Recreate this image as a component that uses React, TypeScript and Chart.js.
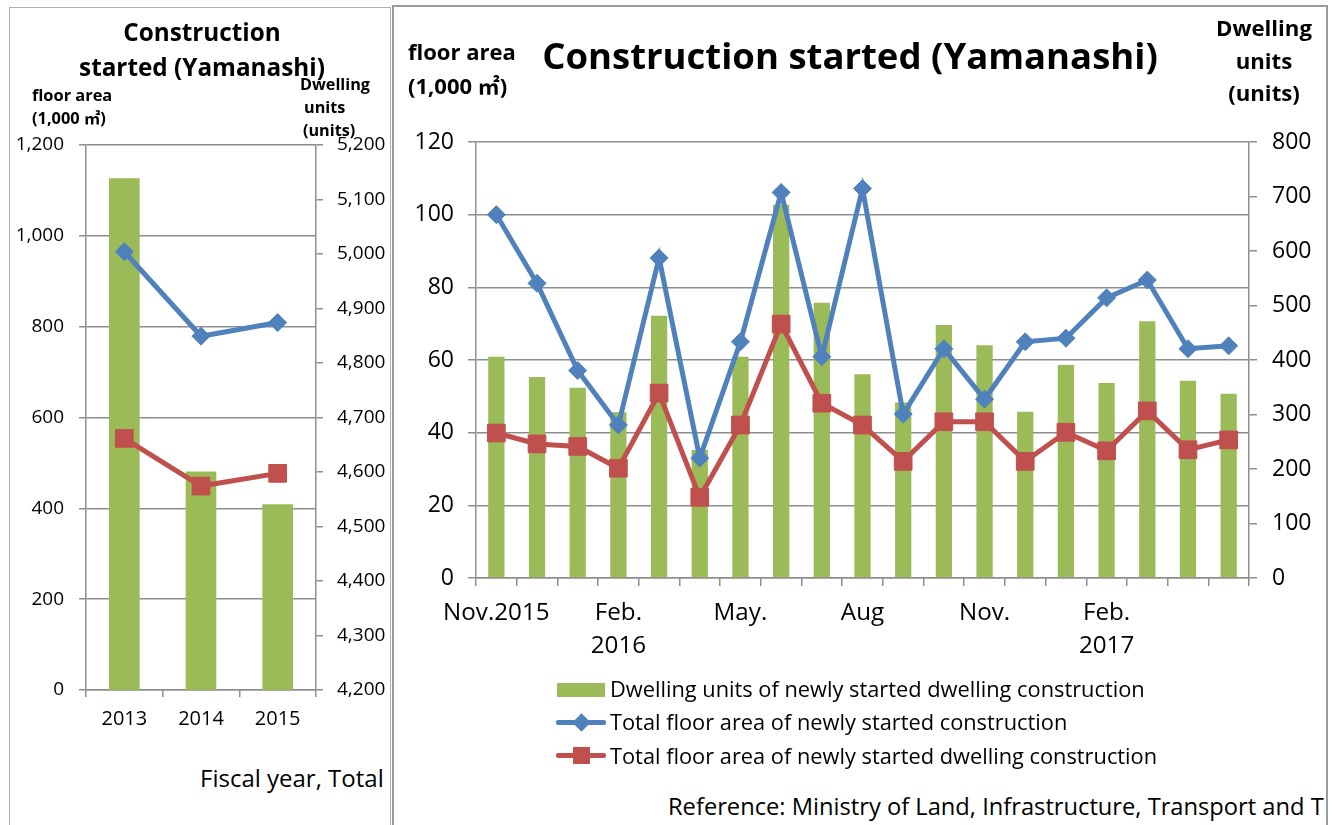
import React, { useEffect, useRef } from 'react';
import { Chart, registerables } from 'chart.js';

Chart.register(...registerables);

// ---------- data: fiscal year totals (left panel) ----------
const fyCategories = ['2013', '2014', '2015'];
const fyDwellingUnits = [5139, 4601, 4541];
const fyTotalFloorArea = [965, 779, 809];
const fyDwellingFloorArea = [554, 449, 477];
const fyLeftTicks = [0, 200, 400, 600, 800, 1000, 1200];
const fyRightTicks = [4200, 4300, 4400, 4500, 4600, 4700, 4800, 4900, 5000, 5100, 5200];

// ---------- data: monthly (right panel) ----------
const monthLabels: (string | string[])[] = [
  'Nov.2015', '', '', ['Feb.', '2016'], '', '', 'May.', '', '', 'Aug', '', '',
  'Nov.', '', '', ['Feb.', '2017'], '', '', '',
];
const monthlyDwellingUnits = [406, 369, 349, 304, 481, 235, 406, 685, 505, 374, 322, 464, 427, 305, 391, 358, 471, 362, 338];
const monthlyTotalFloorArea = [100.0, 81.1, 57.1, 42.1, 88.1, 33.0, 65.0, 106.1, 60.9, 107.2, 45.1, 63.1, 49.2, 65.0, 66.0, 77.1, 82.0, 63.1, 63.9];
const monthlyDwellingFloorArea = [39.9, 36.9, 36.2, 30.2, 50.9, 22.2, 42.1, 69.9, 48.1, 42.1, 32.1, 43.0, 43.0, 32.1, 40.1, 35.0, 46.0, 35.3, 38.0];
const monthlyLeftTicks = [0, 20, 40, 60, 80, 100, 120];
const monthlyRightTicks = [0, 100, 200, 300, 400, 500, 600, 700, 800];

const seriesNames = [
  'Dwelling units of newly started dwelling construction',
  'Total floor area of newly started construction',
  'Total floor area of newly started dwelling construction',
];

const GREEN = '#9BBB59';
const BLUE = '#4F81BD';
const RED = '#C0504D';
const GRID = '#8e8e8e';
const FONT = "'Open Sans', 'Noto Sans', 'Noto Sans CJK JP', sans-serif";

function fmt(v: number) {
  return Number(v).toLocaleString('en-US');
}

function makeConfig(opts: {
  labels: any[];
  units: number[];
  total: number[];
  dwelling: number[];
  leftTicks: number[];
  rightTicks: number[];
  padTop: number;
  leftW: number;
  rightW: number;
  bottomH: number;
  fontSize: number;
  xFontSize: number;
  xLineHeight: number;
  xPad: number;
  lPad: number;
  rPad: number;
  tickLen: number;
}): any {
  const lt = opts.leftTicks;
  const rt = opts.rightTicks;
  return {
    type: 'bar',
    data: {
      labels: opts.labels,
      datasets: [
        {
          type: 'line',
          label: seriesNames[1],
          data: opts.total,
          yAxisID: 'y',
          borderColor: BLUE,
          backgroundColor: BLUE,
          borderWidth: 5,
          tension: 0,
          pointStyle: 'rectRot',
          pointRadius: 9,
          pointBorderWidth: 1,
          pointBackgroundColor: BLUE,
          pointBorderColor: BLUE,
          order: 1,
        },
        {
          type: 'line',
          label: seriesNames[2],
          data: opts.dwelling,
          yAxisID: 'y',
          borderColor: RED,
          backgroundColor: RED,
          borderWidth: 5,
          tension: 0,
          pointStyle: 'rect',
          pointRadius: 12.5,
          pointBorderWidth: 1,
          pointBackgroundColor: RED,
          pointBorderColor: RED,
          order: 2,
        },
        {
          type: 'bar',
          label: seriesNames[0],
          data: opts.units,
          yAxisID: 'y1',
          backgroundColor: GREEN,
          borderWidth: 0,
          barPercentage: 0.4,
          categoryPercentage: 1,
          order: 3,
        },
      ],
    },
    options: {
      responsive: true,
      maintainAspectRatio: false,
      animation: false,
      layout: { padding: { top: opts.padTop, left: 0, right: 0, bottom: 0 } },
      plugins: {
        legend: { display: false },
        tooltip: { enabled: false },
        title: { display: false },
      },
      scales: {
        x: {
          type: 'category',
          offset: true,
          grid: {
            display: true,
            offset: true,
            drawOnChartArea: false,
            drawTicks: true,
            tickLength: opts.tickLen,
            color: GRID,
            lineWidth: 1.5,
          },
          border: { display: true, color: GRID, width: 1.5 },
          ticks: {
            autoSkip: false,
            maxRotation: 0,
            minRotation: 0,
            color: '#000',
            padding: opts.xPad,
            font: { family: FONT, size: opts.xFontSize, lineHeight: opts.xLineHeight },
          },
          afterFit: (s: any) => {
            s.height = opts.bottomH;
          },
        },
        y: {
          type: 'linear',
          position: 'left',
          min: lt[0],
          max: lt[lt.length - 1],
          grid: {
            display: true,
            drawOnChartArea: true,
            drawTicks: true,
            tickLength: opts.tickLen,
            color: GRID,
            lineWidth: 1.5,
          },
          border: { display: true, color: GRID, width: 1.5 },
          ticks: {
            stepSize: lt[1] - lt[0],
            color: '#000',
            padding: opts.lPad,
            font: { family: FONT, size: opts.fontSize },
            callback: (v: any) => fmt(v),
          },
          afterFit: (s: any) => {
            s.width = opts.leftW;
          },
        },
        y1: {
          type: 'linear',
          position: 'right',
          min: rt[0],
          max: rt[rt.length - 1],
          grid: {
            display: true,
            drawOnChartArea: false,
            drawTicks: true,
            tickLength: opts.tickLen,
            color: GRID,
            lineWidth: 1.5,
          },
          border: { display: true, color: GRID, width: 1.5 },
          ticks: {
            stepSize: rt[1] - rt[0],
            color: '#000',
            padding: opts.rPad,
            font: { family: FONT, size: opts.fontSize },
            callback: (v: any) => fmt(v),
          },
          afterFit: (s: any) => {
            s.width = opts.rightW;
          },
        },
      },
    },
  };
}

const abs = (l: number, t: number, extra: React.CSSProperties = {}): React.CSSProperties => ({
  position: 'absolute',
  left: l,
  top: t,
  ...extra,
});

export default function App() {
  const leftRef = useRef<HTMLCanvasElement | null>(null);
  const rightRef = useRef<HTMLCanvasElement | null>(null);

  useEffect(() => {
    document.body.style.margin = '0';
    const charts: Chart[] = [];
    if (leftRef.current) {
      charts.push(
        new Chart(
          leftRef.current,
          makeConfig({
            labels: fyCategories,
            units: fyDwellingUnits,
            total: fyTotalFloorArea,
            dwelling: fyDwellingFloorArea,
            leftTicks: fyLeftTicks,
            rightTicks: fyRightTicks,
            padTop: 145,
            leftW: 86,
            rightW: 84,
            bottomH: 70,
            fontSize: 19,
            xFontSize: 20,
            xLineHeight: 1.2,
            xPad: 10,
            lPad: 15,
            rPad: 14,
            tickLen: 7,
          })
        )
      );
    }
    if (rightRef.current) {
      charts.push(
        new Chart(
          rightRef.current,
          makeConfig({
            labels: monthLabels,
            units: monthlyDwellingUnits,
            total: monthlyTotalFloorArea,
            dwelling: monthlyDwellingFloorArea,
            leftTicks: monthlyLeftTicks,
            rightTicks: monthlyRightTicks,
            padTop: 142,
            leftW: 83,
            rightW: 78,
            bottomH: 102,
            fontSize: 23,
            xFontSize: 24.2,
            xLineHeight: 1.38,
            xPad: 10,
            lPad: 14,
            rPad: 15,
            tickLen: 8,
          })
        )
      );
    }
    return () => {
      charts.forEach((c) => c.destroy());
    };
  }, []);

  const bold: React.CSSProperties = { fontFamily: FONT, fontWeight: 700, color: '#000', whiteSpace: 'nowrap' };
  const reg: React.CSSProperties = { fontFamily: FONT, fontWeight: 400, color: '#000', whiteSpace: 'nowrap' };

  return (
    <div style={{ position: 'absolute', left: 0, top: 0, width: 1341, height: 825, overflow: 'hidden', background: '#fff' }}>
      {/* panel frames */}
      <div style={abs(9, 7, { width: 382, height: 840, border: '1px solid #b0b0b0', boxSizing: 'border-box' })} />
      <div style={abs(392, 5, { width: 936, height: 840, border: '2px solid #9a9a9a', boxSizing: 'border-box' })} />

      {/* canvases */}
      <div style={abs(0, 0, { width: 400, height: 760 })}>
        <canvas ref={leftRef} />
      </div>
      <div style={abs(393, 0, { width: 934, height: 680 })}>
        <canvas ref={rightRef} />
      </div>

      {/* left panel texts */}
      <div style={abs(9, 14, { ...bold, width: 386, textAlign: 'center', fontSize: 24.3, lineHeight: '35px' })}>
        Construction
        <br />
        started (Yamanashi)
      </div>
      <div style={abs(32, 83, { ...bold, fontSize: 16.4, lineHeight: '23px' })}>
        floor area
        <br />
        (1,000 ㎡)
      </div>
      <div style={abs(300, 73, { ...bold, fontSize: 16.2, lineHeight: '23px' })}>Dwelling</div>
      <div style={abs(304, 96, { ...bold, fontSize: 16.2, lineHeight: '23px' })}>units</div>
      <div style={abs(303, 119, { ...bold, fontSize: 16.2, lineHeight: '23px' })}>(units)</div>
      <div style={abs(200, 762, { ...reg, fontSize: 24, lineHeight: '32px' })}>Fiscal year, Total</div>

      {/* right panel texts */}
      <div style={abs(393, 32, { ...bold, width: 914, textAlign: 'center', fontSize: 36.5, lineHeight: '46px' })}>
        Construction started (Yamanashi)
      </div>
      <div style={abs(408, 34, { ...bold, fontSize: 22, lineHeight: '34px' })}>
        floor area
        <br />
        (1,000 ㎡)
      </div>
      <div style={abs(1204, 12, { ...bold, width: 120, textAlign: 'center', fontSize: 22.2, lineHeight: '32.5px' })}>
        Dwelling
        <br />
        units
        <br />
        (units)
      </div>

      {/* legend */}
      <div style={abs(557, 683, { width: 48, height: 14, background: GREEN })} />
      <div style={abs(610, 674, { ...reg, fontSize: 21.8, lineHeight: '30px' })}>{seriesNames[0]}</div>

      <div style={abs(556, 720, { width: 50, height: 5, background: BLUE, borderRadius: 2 })} />
      <div style={abs(575, 716, { width: 13, height: 13, background: BLUE, transform: 'rotate(45deg)' })} />
      <div style={abs(610, 707, { ...reg, fontSize: 21.8, lineHeight: '30px' })}>{seriesNames[1]}</div>

      <div style={abs(556, 753, { width: 50, height: 5, background: RED, borderRadius: 2 })} />
      <div style={abs(573, 747, { width: 17, height: 17, background: RED })} />
      <div style={abs(610, 741, { ...reg, fontSize: 21.8, lineHeight: '30px' })}>{seriesNames[2]}</div>

      {/* source note, clipped by the panel frame */}
      <div style={abs(394, 790, { width: 931, height: 34, overflow: 'hidden' })}>
        <div style={abs(274, 0, { ...reg, fontSize: 23.7, lineHeight: '32px' })}>
          Reference: Ministry of Land, Infrastructure, Transport and T
        </div>
      </div>
    </div>
  );
}
